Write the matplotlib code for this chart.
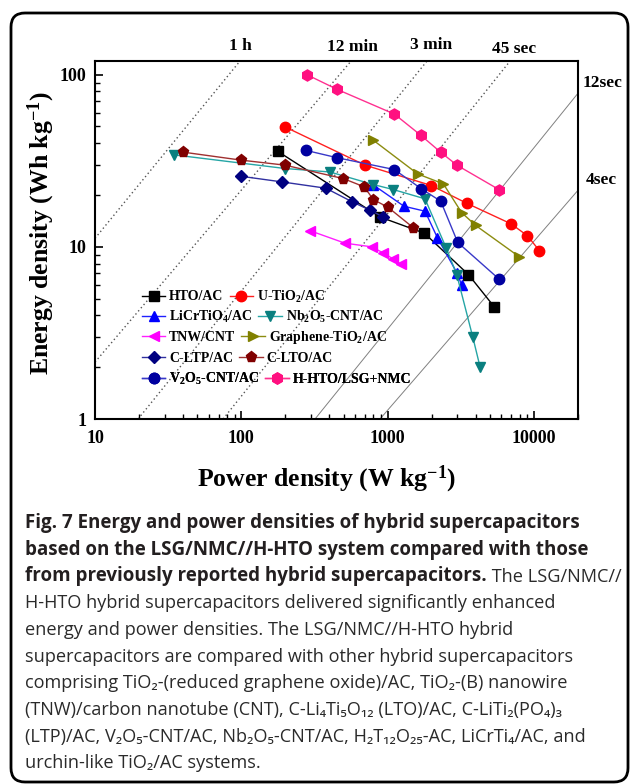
import numpy as np
import matplotlib
matplotlib.use("Agg")
import matplotlib.pyplot as plt
from matplotlib.patches import FancyBboxPatch
from matplotlib.transforms import IdentityTransform, blended_transform_factory
from matplotlib.ticker import FixedLocator, LogLocator, NullFormatter

plt.rcParams.update({
    "font.family": ["Liberation Serif", "DejaVu Serif"],
    "font.weight": "bold",
    "mathtext.fontset": "custom",
    "mathtext.rm": "Liberation Serif:bold",
    "mathtext.bf": "Liberation Serif:bold",
    "mathtext.it": "Liberation Serif:bold",
})

# ── data (power W/kg, energy Wh/kg) ─────────────────────────────────
hto_p   = [177, 887, 1783, 3565, 5333]
hto_e   = [35.9, 14.9, 12.0, 6.9, 4.5]
utio2_p = [199, 701, 1990, 3475, 6970, 9020, 10890]
utio2_e = [49.7, 29.8, 22.7, 17.9, 13.6, 11.6, 9.5]
licr_p  = [791, 1294, 1801, 2188, 2993, 3205]
licr_e  = [23.0, 17.2, 16.1, 11.3, 7.0, 6.0]
nb_p    = [34.7, 199, 404, 798, 1094, 1801, 2506, 2966, 3816, 4286]
nb_e    = [34.2, 28.5, 27.2, 23.0, 21.5, 19.0, 9.9, 6.9, 3.0, 2.0]
tnw_p   = [295, 511, 778, 935, 1094, 1230]
tnw_e   = [12.4, 10.5, 10.0, 9.2, 8.5, 7.9]
gr_p    = [798, 1606, 2404, 3205, 4000, 7940]
gr_e    = [41.6, 26.5, 23.2, 15.8, 13.3, 8.75]
ltp_p   = [99, 191, 378, 569, 759, 935]
ltp_e   = [25.7, 23.8, 21.9, 18.3, 16.3, 14.9]
lto_p   = [39.7, 99, 199, 498, 693, 798, 1003, 1500]
lto_e   = [35.5, 31.9, 29.8, 24.9, 22.3, 18.8, 17.0, 12.9]
v2o5_p  = [277, 453, 1112, 1690, 2306, 3014, 5768]
v2o5_e  = [36.3, 32.9, 28.1, 21.8, 18.4, 10.6, 6.5]
hhto_p  = [280, 453, 1112, 1683, 2306, 2993, 5768]
hhto_e  = [100, 82, 59, 44.5, 35.4, 29.7, 21.5]

# constant-time guide lines: end points (P, E)
guide_labels = ["1 h", "12 min", "3 min", "45 sec", "12sec", "4sec"]
guide_p0 = [10, 10, 19.7, 75, 319, 887]
guide_e0 = [11.2, 2.14, 1.0, 1.0, 1.0, 1.0]
guide_p1 = [98, 563, 1858, 6870, 20000, 20000]
guide_e1 = [120, 120, 120, 120, 78, 21.3]
guide_solid = [False, False, False, False, True, True]

x_ticks = [10, 100, 1000, 10000]
y_ticks = [1, 10, 100]

series = [
    # label, P, E, marker, marker colour, line colour, size
    ("HTO/AC", hto_p, hto_e, "s", "#000000", "#000000", 6.5),
    ("U-TiO$_\\mathbf{2}$/AC", utio2_p, utio2_e, "o", "#FF0000", "#FF2020", 7.5),
    ("LiCrTiO$_\\mathbf{4}$/AC", licr_p, licr_e, "^", "#0000FF", "#2020FF", 7.5),
    ("Nb$_\\mathbf{2}$O$_\\mathbf{5}$-CNT/AC", nb_p, nb_e, "v", "#0A7F7F", "#25A5A5", 7.5),
    ("TNW/CNT", tnw_p, tnw_e, "<", "#FF00FF", "#FF20FF", 7.5),
    ("Graphene-TiO$_\\mathbf{2}$/AC", gr_p, gr_e, ">", "#808000", "#8C8C10", 7.5),
    ("C-LTP/AC", ltp_p, ltp_e, "D", "#000080", "#3030A0", 6.5),
    ("C-LTO/AC", lto_p, lto_e, "p", "#800000", "#A03030", 8),
    ("V$_\\mathbf{2}$O$_\\mathbf{5}$-CNT/AC", v2o5_p, v2o5_e, "o", "#0000A0", "#3838C8", 7.5),
    ("H-HTO/LSG+NMC", hhto_p, hhto_e, "h", "#FF1080", "#FF3090", 8),
]

W, H = 630, 784
fig = plt.figure(figsize=(W / 100, H / 100), dpi=100)
ax = fig.add_axes([95 / W, 1 - 419 / H, 483 / W, 358 / H])

# guide lines
for p0, e0, p1, e1, solid in zip(guide_p0, guide_e0, guide_p1, guide_e1, guide_solid):
    if solid:
        ax.plot([p0, p1], [e0, e1], color="#808080", lw=0.7, ls="-", zorder=1)
    else:
        ax.plot([p0, p1], [e0, e1], color="#555555", lw=1.0, ls=(0, (1, 2)), zorder=1)

for lbl, p, e, mk, mc, lc, ms in series:
    ax.plot(p, e, color=lc, lw=1.0, marker=mk, ms=ms, mfc=mc, mec=mc, label=lbl, zorder=3)

ax.set_xscale("log")
ax.set_yscale("log")
ax.set_xlim(10, 20000)
ax.set_ylim(1, 120)
ax.xaxis.set_major_locator(FixedLocator(x_ticks))
ax.set_xticklabels([str(v) for v in x_ticks])
ax.yaxis.set_major_locator(FixedLocator(y_ticks))
ax.set_yticklabels([str(v) for v in y_ticks])
ax.xaxis.set_minor_locator(LogLocator(base=10, subs=np.arange(2, 10)))
ax.yaxis.set_minor_locator(LogLocator(base=10, subs=np.arange(2, 10)))
ax.xaxis.set_minor_formatter(NullFormatter())
ax.yaxis.set_minor_formatter(NullFormatter())
ax.tick_params(which="both", direction="in", top=False, right=False)
ax.tick_params(which="major", length=6, width=1.2, labelsize=13)
ax.tick_params(axis="x", which="major", pad=8)
ax.tick_params(axis="y", which="major", pad=6)
ax.tick_params(which="minor", length=3.5, width=1.0)
for s in ax.spines.values():
    s.set_linewidth(1.5)

# time labels
trans = blended_transform_factory(ax.transData, ax.transAxes)
top_x = [98, 571, 1995, 7310]
top_y = [1.042, 1.040, 1.045, 1.034]
for lbl, xx, yy in zip(guide_labels[:4], top_x, top_y):
    ax.text(xx, yy, lbl, transform=trans, ha="center", va="center", fontsize=12.5)
ax.text(1.010, 0.938, guide_labels[4], transform=ax.transAxes, ha="left", va="center", fontsize=12.5)
ax.text(1.017, 0.668, guide_labels[5], transform=ax.transAxes, ha="left", va="center", fontsize=12.5)

# legend: one flowing row per pair of entries (Origin style)
handles, labels = ax.get_legend_handles_labels()
row_y = [296.5, 317.0, 337.6, 358.2, 378.8]
for r, py in enumerate(row_y):
    leg = ax.legend(handles[2 * r:2 * r + 2], labels[2 * r:2 * r + 2],
                    loc="center left", bbox_to_anchor=(0.097, (419 - py) / 358),
                    ncol=2, frameon=False, fontsize=10, handlelength=1.7,
                    handletextpad=0.25, columnspacing=0.45, borderpad=0,
                    borderaxespad=0)
    ax.add_artist(leg)

fig.text(327 / W, 1 - 486 / H, "Power density (W kg$^{\\mathbf{-1}}$)", ha="center",
         va="baseline", fontsize=18.5)
fig.text(48 / W, 1 - 233 / H, "Energy density (Wh kg$^{\\mathbf{-1}}$)", ha="center",
         va="baseline", rotation=90, rotation_mode="anchor", fontsize=18.5)

# caption
cap_font = ["Open Sans", "DejaVu Sans"]
cap_bold = [
    "Fig. 7 Energy and power densities of hybrid supercapacitors",
    "based on the LSG/NMC//H-HTO system compared with those",
    "from previously reported hybrid supercapacitors.",
]
cap_tail = " The LSG/NMC//"
cap_regular = [
    "H-HTO hybrid supercapacitors delivered significantly enhanced",
    "energy and power densities. The LSG/NMC//H-HTO hybrid",
    "supercapacitors are compared with other hybrid supercapacitors",
    "comprising TiO₂-(reduced graphene oxide)/AC, TiO₂-(B) nanowire",
    "(TNW)/carbon nanotube (CNT), C-Li₄Ti₅O₁₂ (LTO)/AC, C-LiTi₂(PO₄)₃",
    "(LTP)/AC, V₂O₅-CNT/AC, Nb₂O₅-CNT/AC, H₂T₁₂O₂₅-AC, LiCrTi₄/AC, and",
    "urchin-like TiO₂/AC systems.",
]
x0 = 25 / W
line_h = 26.7
y_first = 523
bold_size, reg_size = 13.5, 13.1
last = None
for i, line in enumerate(cap_bold):
    last = fig.text(x0, 1 - (y_first + i * line_h) / H, line, family=cap_font,
                    fontweight="bold", fontsize=bold_size, color="#231F20", va="center")
ax.annotate(cap_tail, xy=(1, 0), xycoords=last, va="bottom", ha="left",
            family=cap_font, fontweight="normal", fontsize=reg_size, color="#2A2A2A",
            annotation_clip=False)
for j, line in enumerate(cap_regular):
    fig.text(x0, 1 - (y_first + (j + 3) * line_h) / H, line, family=cap_font,
             fontweight="normal", fontsize=reg_size, color="#2A2A2A", va="center")

# rounded frame
frame = FancyBboxPatch((11, 2), 617, 769, boxstyle="round,pad=0,rounding_size=14",
                       transform=IdentityTransform(), fill=False, lw=2, ec="black")
fig.add_artist(frame)

fig.savefig("out.png", dpi=100)
